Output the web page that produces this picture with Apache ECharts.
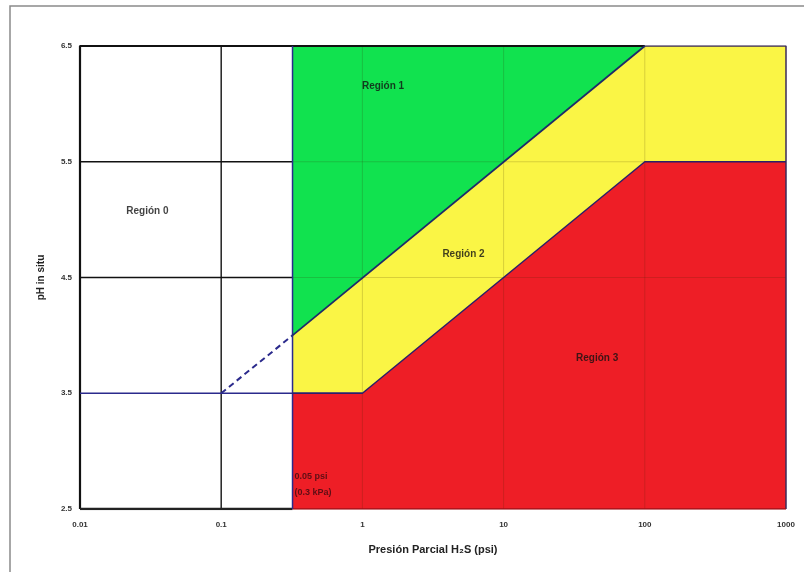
<!DOCTYPE html>
<html><head><meta charset="utf-8">
<script src="https://cdn.jsdelivr.net/npm/echarts@6/dist/echarts.min.js"></script>
<style>html,body{margin:0;padding:0;background:#fff}#c{width:804px;height:572px}</style>
</head><body><div id="c"></div>
<script>
// Axis ticks
const xTicks = [0.01, 0.1, 1, 10, 100, 1000];
const yTicks = [2.5, 3.5, 4.5, 5.5, 6.5];
// Region boundaries (H2S partial pressure psi, pH)
const greenTop = [[0.32, 6.5], [100, 6.5]];
const greenYellowBoundary = [[0.32, 4.0], [100, 6.5], [1000, 6.5]];
const yellowRedBoundary = [[0.32, 2.5], [0.32, 3.5], [1, 3.5], [100, 5.5], [1000, 5.5]];
const dashedExtension = [[0.1, 3.5], [0.32, 4.0]];
const limitLine = [[0.32, 2.5], [0.32, 6.5]];
const ph35Line = [[0.01, 3.5], [1, 3.5]];
// Region labels
const regionLabels = [
  {name: 'Región 0', value: [0.03, 5.07]},
  {name: 'Región 1', value: [1.4, 6.15]},
  {name: 'Región 2', value: [5.2, 4.7]},
  {name: 'Región 3', value: [46, 3.8]}
];
const limitLabel = {name: '0.05 psi\n(0.3 kPa)', value: [0.33, 2.71]};

const chart = echarts.init(document.getElementById('c'));
const NAVY = '#2b2a8c';
function line(data, color, width, extra) {
  return Object.assign({type: 'line', data: data, symbol: 'none', silent: true,
    lineStyle: {color: color, width: width}, z: 5, animation: false}, extra || {});
}
function area(data, color, z) {
  return {type: 'line', data: data, symbol: 'none', silent: true, animation: false,
    lineStyle: {width: 0}, areaStyle: {color: color, opacity: 1, origin: 'start'}, z: z};
}
const series = [
  area(greenTop, '#11e24f', 1),
  area(greenYellowBoundary, '#faf545', 2),
  area(yellowRedBoundary, '#ee1e26', 3)
];
// faint grid lines across the coloured zone
[1, 10, 100].forEach(v => series.push(line([[v, 2.5], [v, 6.5]], 'rgba(60,40,0,0.18)', 1, {z: 4})));
[4.5, 5.5].forEach(v => series.push(line([[0.32, v], [1000, v]], 'rgba(60,40,0,0.18)', 1, {z: 4})));
// black grid in the white zone
series.push(line([[0.1, 2.5], [0.1, 6.5]], '#222', 1.5));
[4.5, 5.5].forEach(v => series.push(line([[0.01, v], [0.32, v]], '#111', 1.5)));
// frame
series.push(line([[0.01, 2.5], [0.01, 6.5], [100, 6.5]], '#111', 2.2, {z: 6}));
series.push(line([[0.01, 2.5], [0.32, 2.5]], '#222', 2.5, {z: 6}));
series.push(line([[100, 6.5], [1000, 6.5], [1000, 2.5]], '#3a2a5a', 1.5, {z: 6}));
series.push(line([[0.32, 2.5], [1000, 2.5]], '#a01018', 1.5, {z: 6}));
// boundaries
series.push(line(limitLine, NAVY, 1.5, {z: 7}));
series.push(line(ph35Line, NAVY, 1.5, {z: 7}));
series.push(line(dashedExtension, NAVY, 2, {z: 7, lineStyle: {color: NAVY, width: 2, type: [6, 4]}}));
series.push(line(greenYellowBoundary.slice(0, 2), '#1d2a6a', 1.8, {z: 7}));
series.push(line(yellowRedBoundary.slice(1), '#2a1f6a', 1.5, {z: 7}));
// labels
series.push({type: 'scatter', data: regionLabels, symbolSize: 0, silent: true, z: 10, animation: false,
  label: {show: true, formatter: p => p.name, position: 'inside', color: '#111',
    fontFamily: 'Liberation Sans, Arial', fontWeight: 'bold', fontSize: 10}});
series.push({type: 'scatter', data: [limitLabel], symbolSize: 0, silent: true, z: 10, animation: false,
  label: {show: true, formatter: p => p.name, position: 'right', distance: 0, align: 'left',
    color: '#3a0a10', fontFamily: 'Liberation Sans, Arial', fontWeight: 'bold', fontSize: 9, lineHeight: 16}});

chart.setOption({
  animation: false,
  backgroundColor: '#fff',
  graphic: [{type: 'rect', shape: {x: 10, y: 6, width: 810, height: 600},
    style: {fill: 'none', stroke: '#8a8a8a', lineWidth: 1.5}, silent: true, z: -1}],
  grid: {left: 80, right: 18, top: 46, bottom: 63},
  xAxis: {type: 'log', logBase: 10, min: 0.01, max: 1000,
    name: 'Presión Parcial H₂S (psi)', nameLocation: 'middle', nameGap: 35,
    nameTextStyle: {fontFamily: 'Liberation Sans, Arial', fontWeight: 'bold', fontSize: 11, color: '#222'},
    axisLine: {show: false}, axisTick: {show: false}, splitLine: {show: false}, minorTick: {show: false},
    axisLabel: {margin: 12, fontFamily: 'Liberation Sans, Arial', fontWeight: 'bold', fontSize: 8, color: '#333',
      formatter: v => { const t = xTicks.find(k => Math.abs(k - v) / k < 1e-6); return t === undefined ? '' : String(t); }}},
  yAxis: {type: 'value', min: 2.5, max: 6.5, interval: 1,
    name: 'pH in situ', nameLocation: 'middle', nameGap: 34,
    nameTextStyle: {fontFamily: 'Liberation Sans, Arial', fontWeight: 'bold', fontSize: 10, color: '#222'},
    axisLine: {show: false}, axisTick: {show: false}, splitLine: {show: false},
    axisLabel: {margin: 8, fontFamily: 'Liberation Sans, Arial', fontWeight: 'bold', fontSize: 8, color: '#333',
      formatter: v => { const t = yTicks.find(k => Math.abs(k - v) < 1e-6); return t === undefined ? '' : t.toFixed(1); }}},
  series: series
});
</script></body></html>
